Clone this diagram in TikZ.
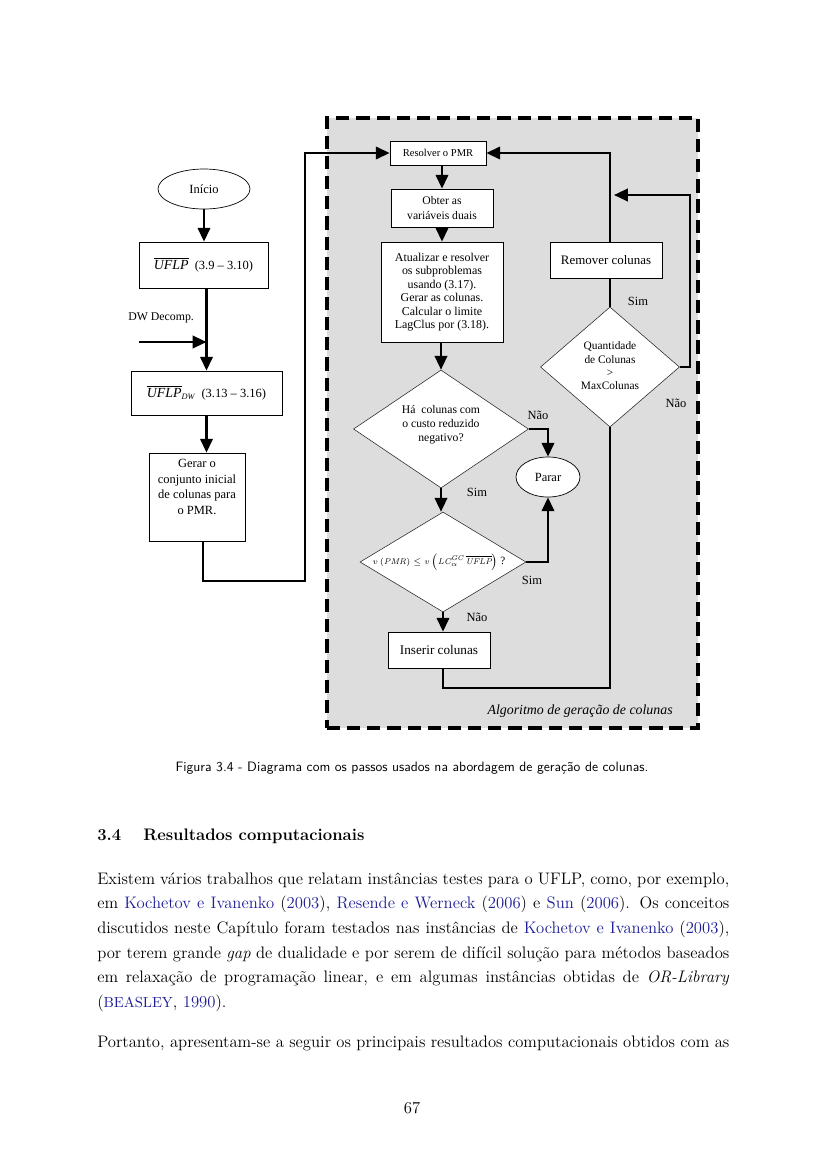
\documentclass[tikz,border=0pt]{standalone}
\usepackage{fontspec}
\newfontfamily\tms{Liberation Serif}
\usetikzlibrary{shapes.geometric,arrows.meta,calc}
\definecolor{bgc}{RGB}{221,221,221}
\definecolor{citec}{RGB}{30,30,150}
\def\px{0.7198pt}
\newcommand\ct[1]{\textcolor{citec}{#1}}
\begin{document}
\begin{tikzpicture}[x=0.7198pt,y=-0.7198pt,
  box/.style={draw=black, line width=0.5pt, fill=white, inner sep=0pt, align=center},
  ell/.style={ellipse, draw=black, line width=0.5pt, fill=white, inner sep=0pt},
  dia/.style={diamond, draw=black!85, line width=0.4pt, fill=white, inner sep=0pt},
  arr/.style={line width=1.7pt, -{Triangle[length=10pt,width=9pt]}},
  ln/.style={line width=1.7pt},
  lbl/.style={font=\tms\fontsize{9}{10}\selectfont, inner sep=0pt},
  dtxt/.style={align=center, inner sep=0pt},
  body/.style={anchor=base west, inner sep=0pt, font=\fontsize{12}{14}\selectfont}
]
\useasboundingbox (0,0) rectangle (827,1169);
\fill[white] (0,0) rectangle (827,1169);

% dashed region
\node[draw=black, fill=bgc, line width=2.2pt, dash pattern=on 9.5pt off 5pt,
      minimum width=371*\px, minimum height=610*\px, inner sep=0pt] (alg) at (512.5,423) {};

% left column
\node[ell, minimum width=92*\px, minimum height=40*\px, font=\tms\fontsize{9}{10}\selectfont] (start) at (204,189) {Início};
\node[box, minimum width=129*\px, minimum height=46*\px, font=\tms\fontsize{9}{10}\selectfont] (uflp) at (203.5,265)
  {$\overline{\hbox{\tms\itshape\fontsize{10}{10}\selectfont UFLP}}$\ \ (3.9 – 3.10)};
\node[box, minimum width=151*\px, minimum height=44*\px, font=\tms\fontsize{9}{10}\selectfont] (dw) at (206.5,393)
  {$\overline{\hbox{\tms\itshape\fontsize{10}{10}\selectfont UFLP}}_{\hbox{\tms\itshape\fontsize{6}{6}\selectfont DW}}$\ \ (3.13 – 3.16)};
\node[box, minimum width=96*\px, minimum height=88*\px] (gerar) at (197,497) {};
\node[dtxt, font=\tms\fontsize{9}{11.3}\selectfont] (gerart) at (197,487) {Gerar o\\conjunto inicial\\de colunas para\\o PMR.};
\node[anchor=west, inner sep=0pt, font=\tms\fontsize{8.5}{10}\selectfont] (dwlab) at (128,318) {DW Decomp.};
\coordinate (dwin) at (139,342);

% right part
\node[box, minimum width=96*\px, minimum height=24*\px, font=\tms\fontsize{7.6}{9}\selectfont] (pmr) at (438,153) {Resolver o PMR};
\node[box, minimum width=102*\px, minimum height=38*\px, font=\tms\fontsize{8.4}{10.5}\selectfont] (obter) at (442,208) {Obter as\\variáveis duais};
\node[box, minimum width=122*\px, minimum height=100*\px, font=\tms\fontsize{8.6}{9.7}\selectfont] (atual) at (442,292)
  {Atualizar e resolver\\os subproblemas\\usando (3.17).\\Gerar as colunas.\\Calcular o limite\\LagClus por (3.18).};
\node[dia, minimum width=175*\px, minimum height=118*\px] (d1) at (441,429) {};
\node[dtxt, font=\tms\fontsize{8.4}{10}\selectfont] (d1t) at (441,425) {Há\ \ colunas com\\o custo reduzido\\negativo?};
\node[ell, minimum width=64*\px, minimum height=40*\px, font=\tms\fontsize{9}{10}\selectfont] (parar) at (548,477) {Parar};
\node[dia, minimum width=166*\px, minimum height=100*\px] (d2) at (443,562) {};
\node[dtxt, font=\tms\fontsize{6}{8}\selectfont] (d2t) at (439,562)
  {$v\left(\mathit{PMR}\right)\leq v\left(\mathit{LC}_{\alpha}^{\mathit{GC}}\,\overline{\mathit{UFLP}}\right)$\ {\fontsize{8}{8}\selectfont ?}};
\node[box, minimum width=102*\px, minimum height=36*\px, font=\tms\fontsize{9.5}{10}\selectfont] (ins) at (439,650) {Inserir colunas};
\node[box, minimum width=112*\px, minimum height=36*\px, font=\tms\fontsize{9.3}{10}\selectfont] (rem) at (606,260) {Remover colunas};
\node[dia, minimum width=139*\px, minimum height=120*\px] (d3) at (610,367) {};
\node[dtxt, font=\tms\fontsize{8.2}{9.6}\selectfont] (d3t) at (610,366) {Quantidade\\de Colunas\\>\\MaxColunas};

% labels
\node[lbl] (l1) at (538,415) {Não};
\node[lbl] (l2) at (477,492) {Sim};
\node[lbl] (l3) at (532,580) {Sim};
\node[lbl] (l4) at (477,617) {Não};
\node[lbl] (l5) at (638,301) {Sim};
\node[lbl] (l6) at (676,403) {Não};
\node[anchor=east, inner sep=0pt, font=\tms\itshape\fontsize{10}{10}\selectfont] (algt) at (673,711) {Algoritmo de geração de colunas};

% connectors
\coordinate (c1) at (203,581);
\coordinate (c2) at (305,581);
\coordinate (c3) at (443,688);
\coordinate (c4) at (610,688);
\coordinate (c5) at (690,367);
\coordinate (c6) at (690,195);
\coordinate (c7) at (614,195);
\draw[arr] (start.south) -- (start.south |- uflp.north);
\draw[arr] (uflp.south -| dw.north) -- (dw.north);
\draw[arr] (dwin) -- (dwin -| dw.north);
\draw[arr] (dw.south) -- (dw.south |- gerar.north);
\draw[arr] (gerar.south -| c1) -- (c1) -- (c2) -- (c2 |- pmr.west) -- (pmr.west);
\draw[arr] (obter.north |- pmr.south) -- (obter.north);
\draw[arr] (obter.south) -- (obter.south |- atual.north);
\draw[arr] (atual.south -| d1.north) -- (d1.north);
\draw[arr] (d1.east) -- (d1.east -| parar.north) -- (parar.north);
\draw[arr] (d1.south) -- (d1.south |- d2.north);
\draw[arr] (d2.east) -- (d2.east -| parar.south) -- (parar.south);
\draw[arr] (d2.south) -- (d2.south |- ins.north);
\draw[ln] (ins.south -| c3) -- (c3) -- (c4) -- (d3.south);
\draw[ln] (d3.north) -- (d3.north |- rem.south);
\draw[arr] (rem.north -| d3.north) -- (d3.north |- pmr.east) -- (pmr.east);
\draw[arr] (d3.east) -- (c5) -- (c6) -- (c7);

% caption and text
\node[inner sep=0pt, font=\sffamily\fontsize{9.8}{11}\selectfont] (cap) at (412,768)
  {Figura 3.4 - Diagrama com os passos usados na abordagem de geração de colunas.};
\node[body, font=\bfseries\fontsize{12}{14}\selectfont] (hn) at (97,840) {3.4};
\node[body, font=\bfseries\fontsize{12}{14}\selectfont] (ht) at (143,840) {Resultados computacionais};
\node[body] (b1) at (97,884) {\makebox[455pt][s]{Existem vários trabalhos que relatam instâncias testes para o UFLP, como, por exemplo,}};
\node[body] (b2) at (97,908.7) {\makebox[455pt][s]{em \ct{Kochetov e Ivanenko} (\ct{2003}), \ct{Resende e Werneck} (\ct{2006}) e \ct{Sun} (\ct{2006}). Os conceitos}};
\node[body] (b3) at (97,933.4) {\makebox[455pt][s]{discutidos neste Capítulo foram testados nas instâncias de \ct{Kochetov e Ivanenko} (\ct{2003}),}};
\node[body] (b4) at (97,958.1) {\makebox[455pt][s]{por terem grande \textit{gap} de dualidade e por serem de difícil solução para métodos baseados}};
\node[body] (b5) at (97,982.8) {\makebox[455pt][s]{em relaxação de programação linear, e em algumas instâncias obtidas de \textit{OR-Library}}};
\node[body] (b6) at (97,1007.5) {(\ct{{\fontsize{10.5}{12}\selectfont BEASLEY}}, \ct{1990}).};
\node[body] (b7) at (97,1047) {\makebox[455pt][s]{Portanto, apresentam-se a seguir os principais resultados computacionais obtidos com as}};
\node[inner sep=0pt, font=\fontsize{12}{14}\selectfont] (pg) at (412,1108) {67};
\end{tikzpicture}
\end{document}
